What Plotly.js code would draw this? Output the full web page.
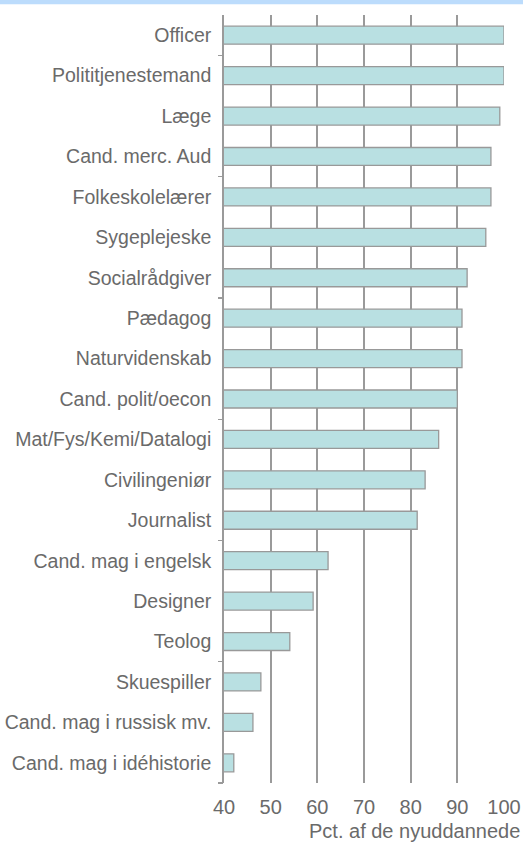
<!DOCTYPE html>
<html>
<head>
<meta charset="utf-8">
<script src="https://cdn.plot.ly/plotly-3.0.1.min.js"></script>
<style>
html,body{margin:0;padding:0;background:#fff;}
#chart{width:523px;height:842px;}
</style>
</head>
<body>
<div id="chart"></div>
<script>
const categories = [
  "Officer","Polititjenestemand","Læge","Cand. merc. Aud","Folkeskolelærer",
  "Sygeplejeske","Socialrådgiver","Pædagog","Naturvidenskab","Cand. polit/oecon",
  "Mat/Fys/Kemi/Datalogi","Civilingeniør","Journalist","Cand. mag i engelsk",
  "Designer","Teolog","Skuespiller","Cand. mag i russisk mv.","Cand. mag i idéhistorie"
];
const values = [100,100,99.1,97.2,97.2,96.1,92.1,91,91,90,86,83.1,81.4,62.3,59.1,54.1,47.9,46.2,42.1];
const xTicks = [40,50,60,70,80,90,100];
const xTitle = "Pct. af de nyuddannede";
const groupTickPositions = [0.5,3.5,6.5,9.5,12.5,15.5,18.5];

const textColor = "#6a6a6a";
const gridColor = "#9a9a9a";

const trace = {
  type: "bar",
  orientation: "h",
  y: categories,
  x: values,
  marker: {color: "#b9e0e2", line: {color: "#999999", width: 1.3}},
  hoverinfo: "x+y"
};
const dummy = {
  type: "scatter", mode: "markers", x: [null], y: [null], yaxis: "y2",
  showlegend: false, hoverinfo: "skip"
};

const layout = {
  width: 523, height: 842,
  margin: {l: 224, r: 19, t: 15, b: 59},
  paper_bgcolor: "#ffffff", plot_bgcolor: "#ffffff",
  showlegend: false,
  bargap: 0.555,
  font: {family: "Liberation Sans, Arial, sans-serif", size: 19.5, color: textColor},
  xaxis: {
    range: [40, 100], tickvals: xTicks, ticktext: xTicks.map(String),
    showgrid: true, gridcolor: gridColor, gridwidth: 1.8,
    zeroline: false, showline: false, ticks: "",
    ticklabelstandoff: 10,
    tickfont: {size: 20, color: textColor}
  },
  yaxis: {
    type: "category", categoryorder: "array", categoryarray: categories,
    range: [18.5, -0.5],
    showgrid: false, zeroline: false,
    showline: true, linecolor: gridColor, linewidth: 1.8,
    ticks: "", ticklabelstandoff: 7,
    tickfont: {size: 19.5, color: textColor}
  },
  yaxis2: {
    overlaying: "y", side: "left", anchor: "x",
    range: [18.5, -0.5], tickvals: groupTickPositions,
    showticklabels: false, ticks: "outside", ticklen: 5, tickwidth: 1.3,
    tickcolor: gridColor, showgrid: false, zeroline: false, showline: false
  },
  shapes: [{
    type: "rect", xref: "paper", yref: "paper",
    x0: -1, x1: 2, y0: 1.0140, y1: 1.03,
    fillcolor: "#bcdcfc", line: {width: 0}, layer: "above"
  }],
  annotations: [{
    text: xTitle, xref: "paper", yref: "paper",
    x: 1.064, y: -0.0625, xanchor: "right", yanchor: "middle",
    showarrow: false, font: {size: 20, color: textColor}
  }]
};

Plotly.newPlot("chart", [trace, dummy], layout, {displayModeBar: false, staticPlot: true});
</script>
</body>
</html>
